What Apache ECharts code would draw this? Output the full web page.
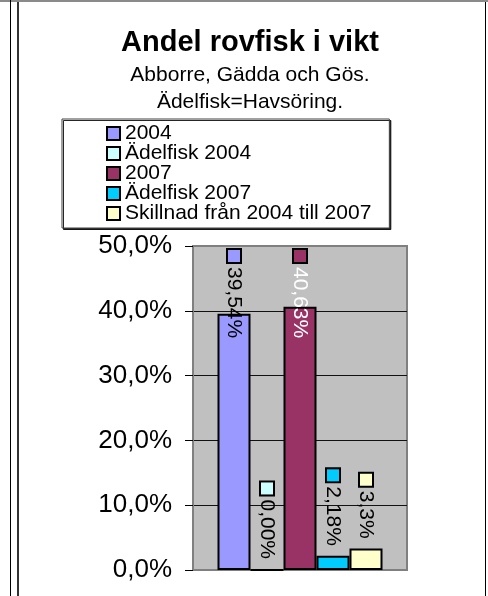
<!DOCTYPE html>
<html>
<head>
<meta charset="utf-8">
<script src="https://cdn.jsdelivr.net/npm/echarts@6/dist/echarts.min.js"></script>
<style>
html,body{margin:0;padding:0;background:#fff;}
#c{width:488px;height:596px;}
</style>
</head>
<body>
<div id="c"></div>
<script>
// ---- data ----
const categories = [''];
const seriesNames = ['2004', 'Ädelfisk 2004', '2007', 'Ädelfisk 2007', 'Skillnad från 2004 till 2007'];
const v2004 = [39.54];
const vAdel2004 = [0.00];
const v2007 = [40.63];
const vAdel2007 = [2.18];
const vDiff = [3.3];
const labelDecimals = [2, 2, 2, 2, 1];
const yTickLabels = ['0,0%', '10,0%', '20,0%', '30,0%', '40,0%', '50,0%'];

// ---- style ----
const FONT = "'Liberation Sans', Arial, sans-serif";
const colors = ['#9999FF', '#CCFFFF', '#993366', '#00CCFF', '#FFFFCC'];
const labelColors = ['#000', '#000', '#fff', '#000', '#000'];
const GRID = { left: 193, top: 246, width: 214, height: 324 };
const LABEL_FONT = 21, KEY = 14, KEY_GAP = 5, LABEL_DIST = 10;

const measureCtx = document.createElement('canvas').getContext('2d');
measureCtx.font = LABEL_FONT + 'px ' + FONT;

const chart = echarts.init(document.getElementById('c'), null, { renderer: 'canvas' });
const seriesData = [v2004, vAdel2004, v2007, vAdel2007, vDiff];
const fmt = (v, i) => v.toFixed(labelDecimals[i]).replace('.', ',') + '%';

const series = seriesData.map((d, i) => ({
  type: 'bar',
  name: seriesNames[i],
  data: d,
  barWidth: 33,
  barGap: '0%',
  itemStyle: { color: colors[i], borderColor: '#000', borderWidth: 2 },
  label: {
    show: true,
    position: 'top',
    distance: LABEL_DIST,
    rotate: -90,
    align: 'right',
    verticalAlign: 'middle',
    fontFamily: FONT,
    formatter: p => '{k|}{t|' + fmt(p.value, i) + '}',
    rich: {
      k: { width: KEY - 2, height: KEY - 2, backgroundColor: colors[i], borderColor: '#000', borderWidth: 2 },
      t: { fontSize: LABEL_FONT, fontFamily: FONT, color: labelColors[i], padding: [0, 0, 0, KEY_GAP] }
    }
  },
  // keep labels inside the plot area (shift along the rotated text direction = downwards)
  labelLayout: p => {
    const len = KEY + KEY_GAP + measureCtx.measureText(fmt(d[p.dataIndex], i)).width;
    const anchor = p.rect.y - LABEL_DIST;
    const top = anchor - len;
    const minTop = GRID.top + 2;
    return { dx: Math.max(0, minTop - top) };
  }
}));

chart.setOption({
  backgroundColor: '#fff',
  animation: false,
  title: {
    text: 'Andel rovfisk i vikt',
    subtext: 'Abborre, Gädda och Gös.\nÄdelfisk=Havsöring.',
    left: 250,
    top: 28,
    padding: 0,
    itemGap: 4.5,
    textAlign: 'center',
    textStyle: { fontFamily: FONT, fontSize: 29, fontWeight: 'bold', color: '#000', lineHeight: 29 },
    subtextStyle: { fontFamily: FONT, fontSize: 21, color: '#000', lineHeight: 27 }
  },
  legend: {
    orient: 'vertical',
    left: 62,
    top: 119,
    padding: [4, 18, 4, 44],
    itemGap: -1,
    itemWidth: 13,
    itemHeight: 13,
    icon: 'rect',
    backgroundColor: '#fff',
    borderColor: '#404040',
    borderWidth: 1,
    shadowColor: 'rgba(0,0,0,0.85)',
    shadowOffsetX: 1.5,
    shadowOffsetY: 1.5,
    shadowBlur: 0,
    itemStyle: { borderColor: '#000', borderWidth: 2 },
    textStyle: { fontFamily: FONT, fontSize: 21, color: '#000', lineHeight: 20 },
    data: seriesNames
  },
  grid: {
    left: GRID.left, top: GRID.top, width: GRID.width, height: GRID.height,
    show: true, backgroundColor: '#C0C0C0', borderColor: '#808080', borderWidth: 2
  },
  xAxis: {
    type: 'category',
    data: categories,
    show: false
  },
  yAxis: {
    type: 'value',
    min: 0, max: 50, interval: 10,
    axisLine: { show: true, lineStyle: { color: '#808080', width: 2 } },
    axisTick: { show: true, length: 8, lineStyle: { color: '#000', width: 1 } },
    splitLine: { show: true, lineStyle: { color: ['#808080', '#111', '#111', '#111', '#111', '#808080'], width: 1 } },
    axisLabel: {
      margin: 21,
      fontFamily: FONT, fontSize: 26, color: '#000',
      formatter: v => yTickLabels[Math.round(v / 10)]
    }
  },
  graphic: [
    { type: 'rect', shape: { x: 0, y: 0, width: 488, height: 2 }, style: { fill: '#8a8a8a' }, silent: true },
    { type: 'rect', shape: { x: 10, y: 0, width: 1, height: 596 }, style: { fill: '#000' }, silent: true },
    { type: 'rect', shape: { x: 17, y: 2, width: 2, height: 594 }, style: { fill: '#333' }, silent: true },
    { type: 'rect', shape: { x: 485, y: 2, width: 1, height: 594 }, style: { fill: '#000' }, silent: true }
  ],
  series: series
});
</script>
</body>
</html>
